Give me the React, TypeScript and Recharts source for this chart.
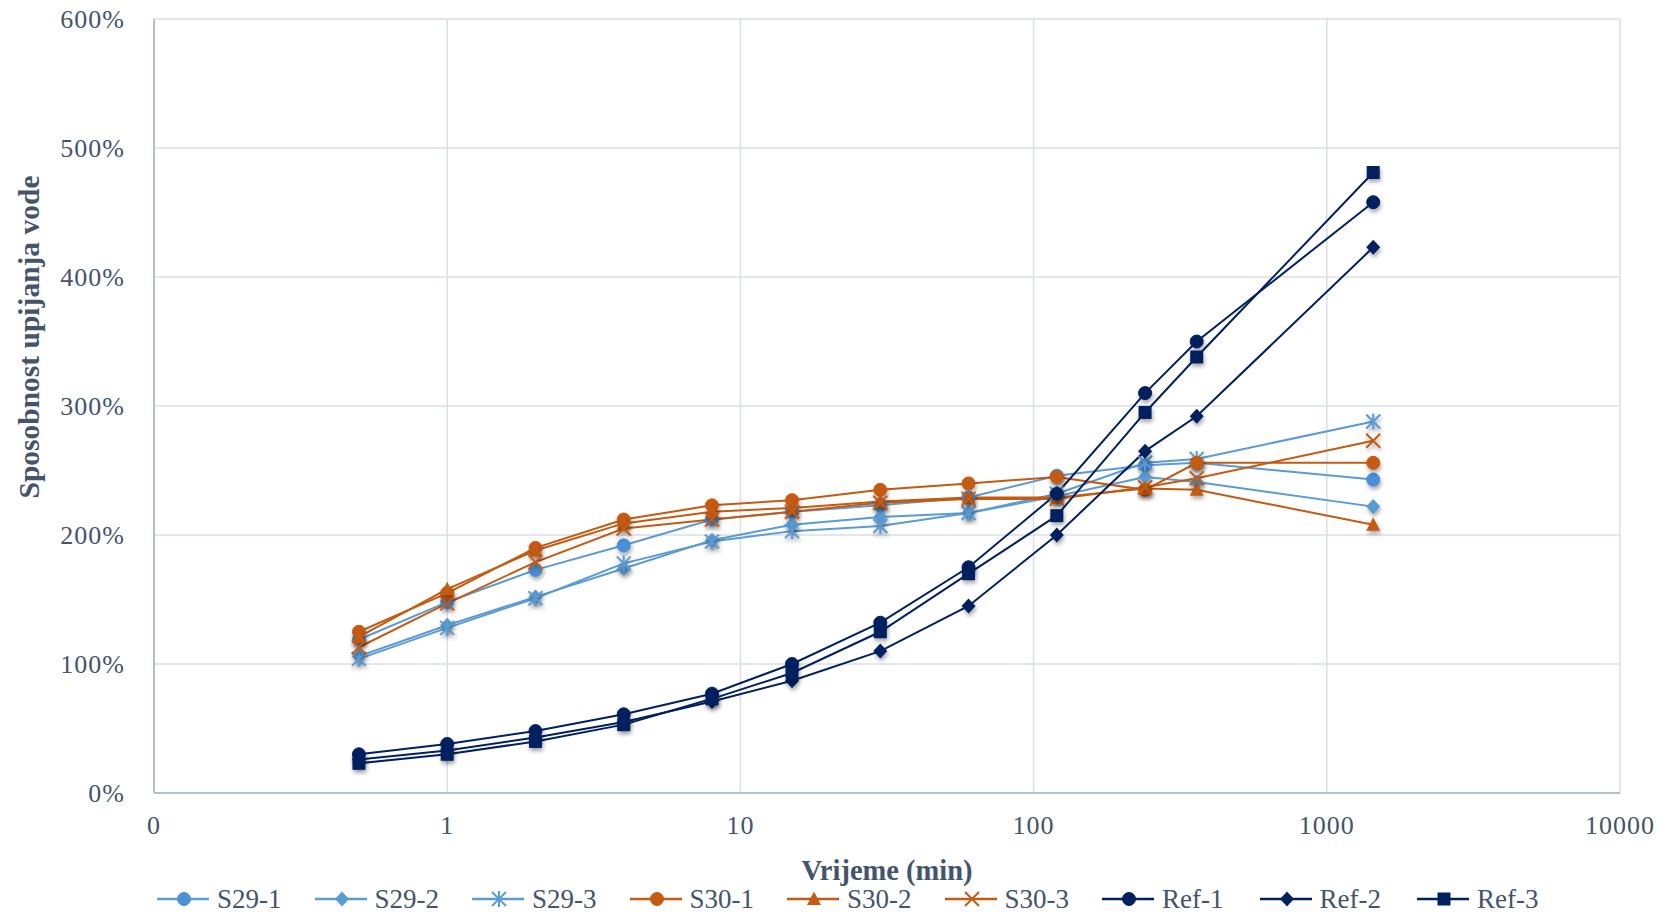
import React from 'react';
import { LineChart, Line, XAxis, YAxis, CartesianGrid, Legend } from 'recharts';

// vrijeme (min)
const times = [0.5, 1, 2, 4, 8, 15, 30, 60, 120, 240, 360, 1440];

// sposobnost upijanja vode (%)
const s29_1 = [119, 148, 173, 192, 212, 218, 223, 229, 246, 254, 256, 243];
const s29_2 = [106, 130, 152, 174, 196, 208, 214, 217, 230, 245, 241, 222];
const s29_3 = [104, 128, 151, 178, 195, 203, 207, 217, 232, 256, 259, 288];
const s30_1 = [125, 155, 190, 212, 223, 227, 235, 240, 245, 235, 256, 256];
const s30_2 = [121, 158, 188, 209, 218, 221, 226, 229, 229, 236, 235, 208];
const s30_3 = [113, 147, 179, 205, 212, 218, 225, 228, 228, 237, 244, 273];
const ref_1 = [30, 38, 48, 61, 77, 100, 132, 175, 232, 310, 350, 458];
const ref_2 = [26, 33, 43, 55, 71, 87, 110, 145, 200, 265, 292, 423];
const ref_3 = [23, 30, 40, 53, 73, 93, 125, 170, 215, 295, 338, 481];

const xTicks = [0.1, 1, 10, 100, 1000, 10000];
const yTicks = [0, 100, 200, 300, 400, 500, 600];

const LIGHT = '#5B9BD5';
const ORANGE = '#C55A11';
const NAVY = '#002060';
const TEXT = '#44546A';
const FONT = '"Liberation Serif", "Times New Roman", serif';

type MarkerKind = 'circle' | 'diamond' | 'star' | 'triangle' | 'x' | 'square';

const series: { name: string; values: number[]; color: string; fill: string; marker: MarkerKind }[] = [
  { name: 'S29-1', values: s29_1, color: LIGHT, fill: '#4A8FD8', marker: 'circle' },
  { name: 'S29-2', values: s29_2, color: LIGHT, fill: LIGHT, marker: 'diamond' },
  { name: 'S29-3', values: s29_3, color: LIGHT, fill: LIGHT, marker: 'star' },
  { name: 'S30-1', values: s30_1, color: ORANGE, fill: ORANGE, marker: 'circle' },
  { name: 'S30-2', values: s30_2, color: ORANGE, fill: ORANGE, marker: 'triangle' },
  { name: 'S30-3', values: s30_3, color: ORANGE, fill: ORANGE, marker: 'x' },
  { name: 'Ref-1', values: ref_1, color: NAVY, fill: NAVY, marker: 'circle' },
  { name: 'Ref-2', values: ref_2, color: NAVY, fill: NAVY, marker: 'diamond' },
  { name: 'Ref-3', values: ref_3, color: NAVY, fill: NAVY, marker: 'square' },
];

const data = times.map((t, i) => {
  const row: { [k: string]: number } = { t };
  series.forEach(s => {
    row[s.name] = s.values[i];
  });
  return row;
});

const Marker = ({ cx, cy, kind, color, fill, shadow = true }: {
  cx: number; cy: number; kind: MarkerKind; color: string; fill: string; shadow?: boolean;
}) => {
  const style = shadow ? { filter: 'drop-shadow(1px 3px 2px rgba(0,0,0,0.35))' } : undefined;
  switch (kind) {
    case 'circle':
      return <circle cx={cx} cy={cy} r={6.5} fill={fill} stroke={fill} strokeWidth={1} style={style} />;
    case 'square':
      return <rect x={cx - 6.5} y={cy - 6.5} width={13} height={13} fill={fill} style={style} />;
    case 'diamond':
      return (
        <polygon
          points={`${cx},${cy - 7.5} ${cx + 7},${cy} ${cx},${cy + 7.5} ${cx - 7},${cy}`}
          fill={fill}
          style={style}
        />
      );
    case 'triangle':
      return (
        <polygon
          points={`${cx},${cy - 7.5} ${cx + 7},${cy + 6} ${cx - 7},${cy + 6}`}
          fill={fill}
          style={style}
        />
      );
    case 'x':
      return (
        <g stroke={color} strokeWidth={2} style={style}>
          <line x1={cx - 7} y1={cy - 7} x2={cx + 7} y2={cy + 7} />
          <line x1={cx - 7} y1={cy + 7} x2={cx + 7} y2={cy - 7} />
        </g>
      );
    case 'star':
    default:
      return (
        <g stroke={color} strokeWidth={2} style={style}>
          <line x1={cx - 7} y1={cy - 7} x2={cx + 7} y2={cy + 7} />
          <line x1={cx - 7} y1={cy + 7} x2={cx + 7} y2={cy - 7} />
          <line x1={cx} y1={cy - 8} x2={cx} y2={cy + 8} />
        </g>
      );
  }
};

const LegendContent = () => (
  <div style={{ display: 'flex', paddingLeft: 149, fontFamily: FONT, fontSize: 27, color: TEXT, height: 30, alignItems: 'center' }}>
    {series.map(s => (
      <div key={s.name} style={{ width: 157.5, display: 'flex', alignItems: 'center' }}>
        <svg width={54} height={30} style={{ marginRight: 6 }}>
          <line x1={0} y1={15} x2={52} y2={15} stroke={s.color} strokeWidth={2.5} />
          <Marker cx={27} cy={15} kind={s.marker} color={s.color} fill={s.fill} shadow={false} />
        </svg>
        <span style={{ lineHeight: '30px' }}>{s.name}</span>
      </div>
    ))}
  </div>
);

const App = () => {
  return (
    <LineChart width={1647} height={900} data={data} margin={{ top: 11, right: 35, bottom: 0, left: 0 }}>
      <CartesianGrid stroke="#D9DEE8" strokeWidth={1.5} />
      <XAxis
        dataKey="t"
        type="number"
        scale="log"
        domain={[0.1, 10000]}
        ticks={xTicks}
        interval={0}
        allowDataOverflow
        tickFormatter={(v: number) => (v === 0.1 ? '0' : String(v))}
        tickLine={false}
        tickSize={0}
        tickMargin={23}
        height={75}
        axisLine={{ stroke: '#B4BECE', strokeWidth: 2 }}
        tick={{ fill: TEXT, fontFamily: FONT, fontSize: 26, letterSpacing: 1 }}
        label={{
          value: 'Vrijeme (min)',
          position: 'insideBottom',
          offset: -12,
          style: { fill: TEXT, fontFamily: FONT, fontSize: 28.5, fontWeight: 'bold' },
        }}
      />
      <YAxis
        type="number"
        domain={[0, 600]}
        ticks={yTicks}
        interval={0}
        width={146}
        tickFormatter={(v: number) => `${v}%`}
        tickLine={false}
        tickSize={0}
        tickMargin={29}
        axisLine={{ stroke: '#B4BECE', strokeWidth: 2 }}
        tick={{ fill: TEXT, fontFamily: FONT, fontSize: 26, letterSpacing: 1 }}
        label={{
          content: () => (
            <text
              x={21}
              y={329}
              transform="rotate(-90 21 329)"
              textAnchor="middle"
              dominantBaseline="central"
              fill={TEXT}
              fontFamily={FONT}
              fontSize={29.5}
              fontWeight="bold"
            >
              Sposobnost upijanja vode
            </text>
          ),
        }}
      />
      <Legend verticalAlign="bottom" height={40} wrapperStyle={{ top: 876, left: 0 }} content={<LegendContent />} />
      {series.map(s => (
        <Line
          key={s.name}
          dataKey={s.name}
          stroke={s.color}
          strokeWidth={2}
          isAnimationActive={false}
          activeDot={false}
          dot={(p: any) => (
            <Marker key={`${s.name}-${p.index}`} cx={p.cx} cy={p.cy} kind={s.marker} color={s.color} fill={s.fill} />
          )}
        />
      ))}
    </LineChart>
  );
};

export default App;
